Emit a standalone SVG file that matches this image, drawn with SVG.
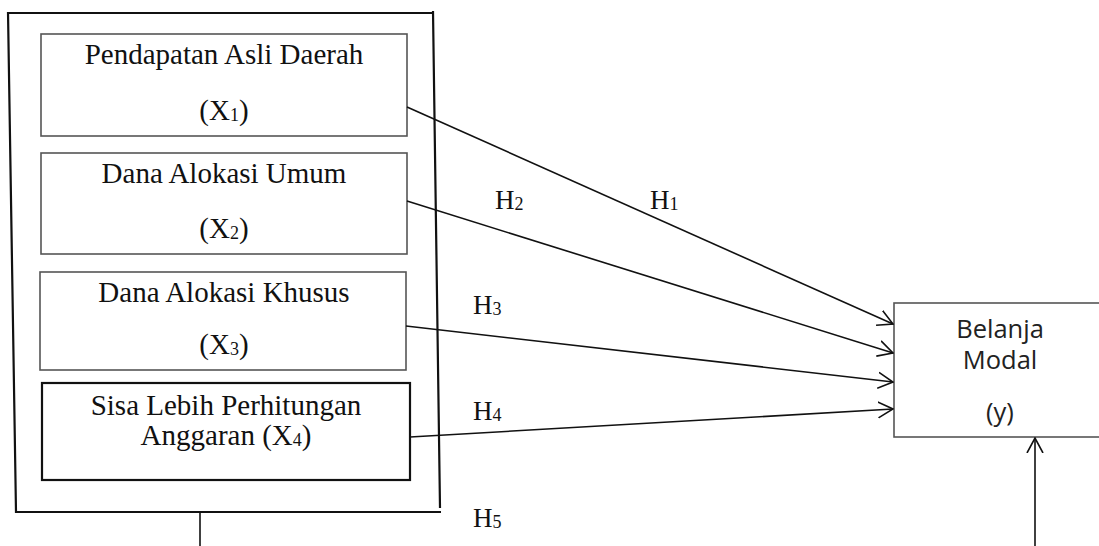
<svg xmlns="http://www.w3.org/2000/svg" width="1099" height="546" viewBox="0 0 1099 546">
<style>
  .serif { font-family: "Liberation Serif", "Times New Roman", serif; fill: #111; }
  .t { font-size: 29px; text-anchor: middle; }
  .h { font-size: 27px; }
  .sans { font-family: "Open Sans", "Liberation Sans", sans-serif; font-size: 25.5px; fill: #222; text-anchor: middle; }
  .box { fill: #fff; stroke: #555; stroke-width: 1.6; }
  .boxb { fill: #fff; stroke: #111; stroke-width: 2.2; }
  .frame { fill: none; stroke: #111; stroke-width: 2.2; }
  .conn { fill: none; stroke: #111; stroke-width: 1.6; }
</style>
<defs>
  <marker id="arr" viewBox="0 0 16 18" refX="15" refY="9" markerWidth="16" markerHeight="18" markerUnits="userSpaceOnUse" orient="auto">
    <path d="M0,1 L15,9 L0,17" fill="none" stroke="#111" stroke-width="1.6"/>
  </marker>
</defs>
<rect width="1099" height="546" fill="#fff"/>

<g id="frame">
  <path class="frame" d="M8,13 L433,13 M433,11 L440,508 M8,12 L16,512 L441,512"/>
</g>

<g id="x1">
  <rect class="box" x="41" y="34" width="366" height="102"/>
  <text class="serif t" x="224" y="64">Pendapatan Asli Daerah</text>
  <text class="serif t" x="224" y="120">(X<tspan font-size="18" dy="1">1</tspan><tspan dy="-1">)</tspan></text>
</g>

<g id="x2">
  <rect class="box" x="41" y="153" width="366" height="101"/>
  <text class="serif t" x="224" y="183">Dana Alokasi Umum</text>
  <text class="serif t" x="224" y="238">(X<tspan font-size="18" dy="1">2</tspan><tspan dy="-1">)</tspan></text>
</g>

<g id="x3">
  <rect class="box" x="40" y="272" width="366" height="98"/>
  <text class="serif t" x="224" y="302">Dana Alokasi Khusus</text>
  <text class="serif t" x="224" y="354">(X<tspan font-size="18" dy="1">3</tspan><tspan dy="-1">)</tspan></text>
</g>

<g id="x4">
  <rect class="boxb" x="42" y="383" width="368" height="97"/>
  <text class="serif t" x="226" y="415">Sisa Lebih Perhitungan</text>
  <text class="serif t" x="226" y="445">Anggaran (X<tspan font-size="18" dy="1">4</tspan><tspan dy="-1">)</tspan></text>
</g>

<g id="y">
  <rect class="box" x="894" y="303" width="220" height="134"/>
  <text class="sans" x="1000" y="338">Belanja</text>
  <text class="sans" x="1000" y="369">Modal</text>
  <text class="sans" x="1000" y="421">(y)</text>
</g>

<g id="connectors">
  <line class="conn" x1="407" y1="107" x2="893" y2="324" marker-end="url(#arr)"/>
  <line class="conn" x1="407" y1="201" x2="893" y2="353" marker-end="url(#arr)"/>
  <line class="conn" x1="406" y1="326" x2="893" y2="382" marker-end="url(#arr)" stroke-width="2"/>
  <line class="conn" x1="410" y1="437" x2="893" y2="409" marker-end="url(#arr)"/>
  <line class="conn" x1="200" y1="512" x2="200" y2="546" stroke-width="2.2"/>
  <line class="conn" x1="1035" y1="546" x2="1035" y2="438" marker-end="url(#arr)"/>
</g>

<g id="labels">
  <text class="serif h" x="650" y="209">H<tspan font-size="18" dy="1">1</tspan></text>
  <text class="serif h" x="495" y="209">H<tspan font-size="18" dy="1">2</tspan></text>
  <text class="serif h" x="473" y="314">H<tspan font-size="18" dy="1">3</tspan></text>
  <text class="serif h" x="473" y="420">H<tspan font-size="18" dy="1">4</tspan></text>
  <text class="serif h" x="473" y="527">H<tspan font-size="18" dy="1">5</tspan></text>
</g>
</svg>
